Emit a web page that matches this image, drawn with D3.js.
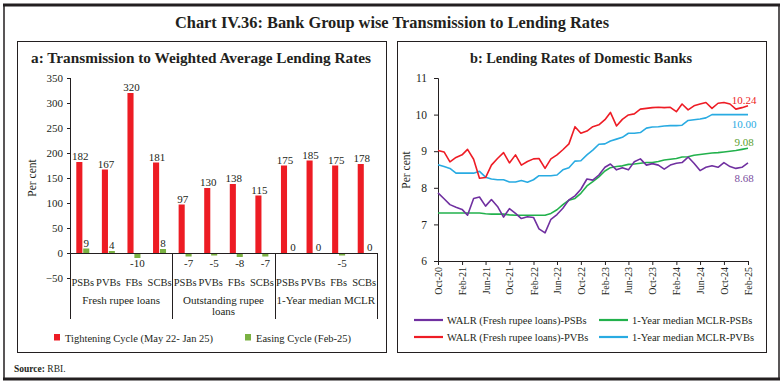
<!DOCTYPE html>
<html>
<head>
<meta charset="utf-8">
<script src="https://cdn.jsdelivr.net/npm/d3@7"></script>
<style>
  body { margin: 0; background: #fff; }
  svg text { font-family: "Liberation Serif", "DejaVu Serif", serif; fill: #231f20; }
</style>
</head>
<body>
<div id="chart"></div>
<script>
// panel a data
const banks = ["PSBs", "PVBs", "FBs", "SCBs"];
const loanGroups = ["Fresh rupee loans", "Outstanding rupee loans", "1-Year median MCLR"];
const tightening = [182, 167, 320, 181, 97, 130, 138, 115, 175, 185, 175, 178];
const easing = [9, 4, -10, 8, -7, -5, -8, -7, 0, 0, -5, 0];
const aTicks = [-50, 0, 50, 100, 150, 200, 250, 300, 350];

// panel b data, monthly Oct-20 .. Feb-25
const walrPSB = [7.86, 7.7, 7.54, 7.47, 7.41, 7.25, 7.71, 7.75, 7.5, 7.68, 7.49, 7.2, 7.43, 7.3, 7.16, 7.21, 7.19, 6.88, 6.77, 7.14,
  7.27, 7.44, 7.67, 7.78, 7.96, 8.24, 8.21, 8.35, 8.56, 8.65, 8.49, 8.55, 8.49, 8.71, 8.79, 8.62, 8.66, 8.62, 8.51, 8.62,
  8.67, 8.69, 8.84, 8.67, 8.47, 8.56, 8.6, 8.56, 8.69, 8.58, 8.53, 8.56, 8.68];
const walrPVB = [9.02, 8.98, 8.71, 8.83, 8.9, 9.05, 8.78, 8.26, 8.28, 8.62, 8.8, 8.96, 8.68, 8.9, 8.62, 8.72, 8.79, 8.8, 8.53, 8.79,
  8.9, 9.04, 9.2, 9.67, 9.49, 9.55, 9.67, 9.72, 9.86, 10.06, 9.69, 9.87, 9.99, 10.02, 10.15, 10.17, 10.19, 10.2, 10.19, 10.2,
  10.08, 10.29, 10.13, 10.24, 10.29, 10.33, 10.17, 10.31, 10.33, 10.29, 10.15, 10.19, 10.24];
const mclrPSB = [7.31, 7.31, 7.31, 7.31, 7.31, 7.31, 7.31, 7.31, 7.29, 7.28, 7.28, 7.28, 7.26, 7.25, 7.25, 7.25, 7.25, 7.25, 7.25, 7.3,
  7.4, 7.54, 7.66, 7.71, 7.85, 8.05, 8.17, 8.3, 8.46, 8.55, 8.58, 8.6, 8.64, 8.65, 8.67, 8.69, 8.69, 8.72, 8.76, 8.78,
  8.8, 8.84, 8.85, 8.89, 8.91, 8.93, 8.95, 8.96, 8.98, 9.0, 9.02, 9.05, 9.08];
const mclrPVB = [8.63, 8.58, 8.53, 8.4, 8.4, 8.4, 8.4, 8.45, 8.29, 8.24, 8.22, 8.22, 8.16, 8.16, 8.2, 8.15, 8.22, 8.33, 8.33, 8.33,
  8.35, 8.49, 8.55, 8.73, 8.74, 8.9, 9.03, 9.19, 9.2, 9.28, 9.33, 9.38, 9.49, 9.49, 9.51, 9.63, 9.66, 9.67, 9.69, 9.7,
  9.7, 9.71, 9.84, 9.86, 9.88, 9.91, 10.0, 10.0, 10.0, 10.0, 10.0, 10.0, 10.0];
const bTicks = [6, 7, 8, 9, 10, 11];

const months = d3.timeMonth.range(new Date(2020, 9, 1), new Date(2025, 2, 1));
const fmtMonth = d3.timeFormat("%b-%y");

const svg = d3.select("#chart").append("svg")
  .attr("width", 783).attr("height", 386);

// frames
svg.append("rect").attr("x", 4).attr("y", 5).attr("width", 775).attr("height", 374)
  .attr("fill", "none").attr("stroke", "#231f20").attr("stroke-width", 1.5);
svg.append("line").attr("x1", 3).attr("x2", 780).attr("y1", 5).attr("y2", 5).attr("stroke", "#231f20").attr("stroke-width", 3);
svg.append("line").attr("x1", 3).attr("x2", 780).attr("y1", 379).attr("y2", 379).attr("stroke", "#231f20").attr("stroke-width", 3);
svg.append("rect").attr("x", 17.5).attr("y", 41.5).attr("width", 369).attr("height", 311)
  .attr("fill", "none").attr("stroke", "#231f20").attr("stroke-width", 1);
svg.append("rect").attr("x", 397.5).attr("y", 41.5).attr("width", 369).attr("height", 311)
  .attr("fill", "none").attr("stroke", "#231f20").attr("stroke-width", 1);

svg.append("text").attr("x", 392).attr("y", 28).attr("text-anchor", "middle")
  .style("font-size", "16.5px").style("font-weight", "bold")
  .attr("textLength", 434).attr("lengthAdjust", "spacingAndGlyphs")
  .text("Chart IV.36: Bank Group wise Transmission to Lending Rates");
svg.append("text").attr("x", 201).attr("y", 63).attr("text-anchor", "middle")
  .style("font-size", "14px").style("font-weight", "bold")
  .attr("textLength", 340).attr("lengthAdjust", "spacingAndGlyphs")
  .text("a: Transmission to Weighted Average Lending Rates");
svg.append("text").attr("x", 581).attr("y", 63).attr("text-anchor", "middle")
  .style("font-size", "14px").style("font-weight", "bold")
  .attr("textLength", 222).attr("lengthAdjust", "spacingAndGlyphs")
  .text("b: Lending Rates of Domestic Banks");

svg.append("text").attr("x", 14).attr("y", 372).style("font-size", "9.5px")
  .html('<tspan style="font-weight:bold">Source:</tspan> RBI.');

// ---------- panel a ----------
const red = "#ed1c24", green = "#7ab142";
const ya = d3.scaleLinear().domain([-50, 350]).range([278, 78]);
const rows = tightening.map((t, i) => ({key: i, bank: banks[i % 4], t: t, e: easing[i]}));
const xa = d3.scaleBand().domain(rows.map(d => d.key)).range([70, 377]);
const bw = xa.bandwidth();
const x1 = d3.scaleBand().domain(["t", "e"]).range([bw / 2 - 6.5, bw / 2 + 6.5]).paddingInner(0.12);

const ga = svg.append("g");
ga.append("g").attr("transform", "translate(70,0)")
  .call(d3.axisLeft(ya).tickValues(aTicks).tickSize(3).tickPadding(4))
  .call(g => g.select(".domain").remove())
  .call(g => g.selectAll("text").style("font-size", "11px").style("font-family", "Liberation Serif"))
  .call(g => g.selectAll("line").attr("stroke", "#231f20"));
ga.append("line").attr("x1", 70.5).attr("x2", 70.5).attr("y1", 78).attr("y2", 319).attr("stroke", "#231f20");

ga.selectAll(".bt").data(rows).join("rect")
  .attr("x", d => xa(d.key) + x1("t")).attr("width", x1.bandwidth())
  .attr("y", d => ya(d.t)).attr("height", d => ya(0) - ya(d.t)).attr("fill", red);
ga.selectAll(".be").data(rows).join("rect")
  .attr("x", d => xa(d.key) + x1("e")).attr("width", x1.bandwidth())
  .attr("y", d => ya(Math.max(0, d.e))).attr("height", d => Math.abs(ya(0) - ya(d.e))).attr("fill", green);

ga.selectAll(".lt").data(rows).join("text")
  .attr("x", d => xa(d.key) + x1("t") + x1.bandwidth() / 2 + 1).attr("y", d => ya(d.t) - 2)
  .attr("text-anchor", "middle").style("font-size", "11px").text(d => d.t);
ga.selectAll(".le").data(rows).join("text")
  .attr("x", d => xa(d.key) + x1("e") + x1.bandwidth() / 2 + (d.e === 0 ? 2 : 0))
  .attr("y", d => d.e < 0 ? ya(0) + 14 : ya(d.e) - 2)
  .attr("text-anchor", "middle").style("font-size", "11px").text(d => d.e);

// category axis
ga.append("line").attr("x1", 70).attr("x2", 377).attr("y1", ya(0) + 0.5).attr("y2", ya(0) + 0.5).attr("stroke", "#231f20");
[1, 2, 3].forEach(k => {
  const xx = xa(k * 4) !== undefined ? xa(k * 4) : 377;
  ga.append("line").attr("x1", Math.round(xx) + 0.5).attr("x2", Math.round(xx) + 0.5)
    .attr("y1", ya(0)).attr("y2", 319).attr("stroke", "#231f20");
});
ga.selectAll(".cl").data(rows).join("text")
  .attr("x", d => xa(d.key) + bw / 2).attr("y", 286)
  .attr("text-anchor", "middle").style("font-size", "10.5px").text(d => d.bank);
loanGroups.forEach((g, k) => {
  const cx = (xa(k * 4) + xa(k * 4 + 3) + bw) / 2;
  const t = ga.append("text").attr("x", cx).attr("y", 304).attr("text-anchor", "middle").style("font-size", "11px");
  if (g === "Outstanding rupee loans") {
    t.text("Outstanding rupee");
    ga.append("text").attr("x", cx).attr("y", 315).attr("text-anchor", "middle").style("font-size", "11px").text("loans");
  } else t.text(g);
});
ga.append("text").attr("transform", "translate(36,178) rotate(-90)").attr("text-anchor", "middle")
  .style("font-size", "11.5px").text("Per cent");

// legend a
const legA = [{c: red, t: "Tightening Cycle (May 22- Jan 25)", x: 54}, {c: green, t: "Easing Cycle (Feb-25)", x: 245}];
legA.forEach(l => {
  ga.append("rect").attr("x", l.x).attr("y", 334).attr("width", 6).attr("height", 6.5).attr("fill", l.c);
  ga.append("text").attr("x", l.x + 11).attr("y", 341.5).style("font-size", "10.5px").text(l.t);
});

// ---------- panel b ----------
const xb = d3.scaleTime().domain([months[0], months[months.length - 1]]).range([438, 748]);
const yb = d3.scaleLinear().domain([6, 11]).range([261, 78]);
const gb = svg.append("g");
gb.append("g").attr("transform", "translate(438,0)")
  .call(d3.axisLeft(yb).tickValues(bTicks).tickSize(4).tickPadding(7).tickFormat(d3.format("d")))
  .call(g => g.selectAll("text").style("font-size", "11.5px"))
  .call(g => g.selectAll("line,path").attr("stroke", "#231f20"));
gb.append("g").attr("transform", "translate(0,261)")
  .call(d3.axisBottom(xb).tickValues(months.filter((m, i) => i % 4 === 0)).tickSize(4).tickFormat(fmtMonth))
  .call(g => g.selectAll("line,path").attr("stroke", "#231f20"))
  .call(g => g.selectAll("text").attr("transform", "rotate(-90)").attr("text-anchor", "end")
    .attr("x", -6).attr("y", 0).attr("dy", "0.35em").style("font-size", "10px"));
gb.append("text").attr("transform", "translate(410,170) rotate(-90)").attr("text-anchor", "middle")
  .style("font-size", "11.5px").text("Per cent");

const series = [
  {name: "WALR (Fresh rupee loans)-PSBs", vals: walrPSB, color: "#7030a0", lab: "#7b4ea0", dy: 178},
  {name: "WALR (Fresh rupee loans)-PVBs", vals: walrPVB, color: "#ee1c25", lab: "#ee1c25", dy: 100},
  {name: "1-Year median MCLR-PSBs", vals: mclrPSB, color: "#22b14c", lab: "#5a9e2e", dy: 142},
  {name: "1-Year median MCLR-PVBs", vals: mclrPVB, color: "#29abe2", lab: "#29abe2", dy: 124}
];
const line = d3.line().x((d, i) => xb(months[i])).y(d => yb(d));
[2, 3, 0, 1].forEach(k => {
  const s = series[k];
  gb.append("path").attr("d", line(s.vals)).attr("fill", "none")
    .attr("stroke", s.color).attr("stroke-width", 1.6).attr("stroke-linejoin", "round");
});
series.forEach(s => {
  gb.append("text").attr("x", 744).attr("y", s.dy + 3.5).attr("text-anchor", "middle")
    .style("font-size", "11px").style("fill", s.lab).text(s.vals[s.vals.length - 1].toFixed(2));
});

// legend b
series.forEach((s, i) => {
  const xx = [414, 599][Math.floor(i / 2)], yy = [320, 337][i % 2];
  gb.append("line").attr("x1", xx).attr("x2", xx + 29).attr("y1", yy).attr("y2", yy)
    .attr("stroke", s.color).attr("stroke-width", 2.2);
  gb.append("text").attr("x", xx + 33).attr("y", yy + 3.5).style("font-size", "10.5px").text(s.name);
});
</script>
</body>
</html>
